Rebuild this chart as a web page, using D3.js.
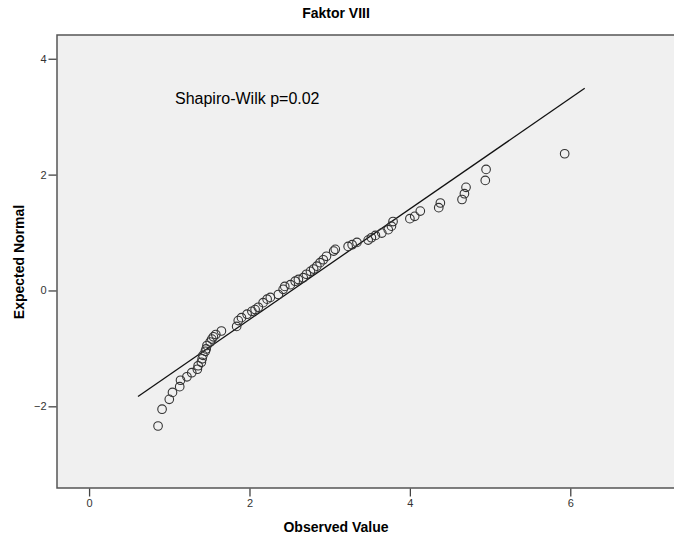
<!DOCTYPE html>
<html>
<head>
<meta charset="utf-8">
<script src="https://cdn.jsdelivr.net/npm/d3@7"></script>
<style>
  body { margin: 0; background: #fff; }
  text { font-family: "Liberation Sans", Arial, sans-serif; }
</style>
</head>
<body>
<div id="canvas"></div>
<script>
"use strict"

let observed = [0.86, 0.91, 1.00, 1.04, 1.13, 1.14, 1.22, 1.28, 1.35, 1.36,
    1.40, 1.41, 1.42, 1.45, 1.46, 1.47, 1.51, 1.53, 1.55, 1.58,
    1.65, 1.84, 1.86, 1.90, 1.97, 2.03, 2.07, 2.11, 2.17, 2.22,
    2.26, 2.36, 2.42, 2.44, 2.51, 2.57, 2.61, 2.67, 2.71, 2.76,
    2.80, 2.84, 2.88, 2.92, 2.96, 3.05, 3.07, 3.23, 3.28, 3.34,
    3.48, 3.52, 3.57, 3.65, 3.73, 3.77, 3.79, 4.00, 4.06, 4.13,
    4.36, 4.38, 4.65, 4.68, 4.70, 4.94, 4.95, 5.93];
let expected = [-2.34, -2.05, -1.88, -1.76, -1.66, -1.55, -1.49, -1.42, -1.36, -1.30,
    -1.24, -1.18, -1.12, -1.05, -1.01, -0.95, -0.89, -0.84, -0.80, -0.76,
    -0.70, -0.62, -0.52, -0.47, -0.41, -0.36, -0.33, -0.29, -0.21, -0.15,
    -0.12, -0.07, 0.02, 0.07, 0.10, 0.16, 0.19, 0.22, 0.28, 0.33,
    0.37, 0.42, 0.48, 0.53, 0.59, 0.68, 0.71, 0.76, 0.79, 0.83,
    0.87, 0.91, 0.95, 0.99, 1.05, 1.11, 1.19, 1.24, 1.28, 1.37,
    1.43, 1.51, 1.57, 1.67, 1.78, 1.90, 2.09, 2.36];

/* Reference line end points (observed, expected) */
let lineX = [0.61, 6.18];
let lineY = [-1.83, 3.49];

let xTicks = [0, 2, 4, 6];
let yTicks = [-2, 0, 2, 4];

/* Drawing configuration */
let svgWidth = 674;
let svgHeight = 540;
let plotLeft = 57, plotTop = 35, plotBottom = 488, plotRight = 676;

let svg = d3.select("#canvas")
    .append("svg")
    .attr("width", svgWidth)
    .attr("height", svgHeight);

let xScale = d3.scaleLinear()
    .domain([-0.4, 7.3])
    .range([plotLeft, plotLeft + 7.7 * 80.2]);

let yScale = d3.scaleLinear()
    .domain([-3.41, 4.41])
    .range([plotBottom, plotTop]);

/* Plot background and frame */
svg.append("rect")
    .attr("x", plotLeft)
    .attr("y", plotTop)
    .attr("width", plotRight - plotLeft)
    .attr("height", plotBottom - plotTop)
    .attr("fill", "#f0f0f0")
    .attr("stroke", "#555")
    .attr("stroke-width", 1.5);

/* Axes */
let xAxis = svg.append("g")
    .attr("transform", "translate(0," + (plotBottom + 0.5) + ")")
    .call(d3.axisBottom(xScale).tickValues(xTicks).tickSize(8).tickPadding(3));
let yAxis = svg.append("g")
    .attr("transform", "translate(" + (plotLeft - 0.5) + ",0)")
    .call(d3.axisLeft(yScale).tickValues(yTicks).tickSize(8).tickPadding(2));

[xAxis, yAxis].forEach(function (ax) {
    ax.select(".domain").remove();
    ax.selectAll("line").attr("stroke", "#444").attr("stroke-width", 1.3);
    ax.selectAll("text")
        .attr("fill", "#333")
        .style("font-size", "11px")
        .style("font-family", "'Liberation Sans', Arial, sans-serif");
});

/* Reference line */
svg.append("line")
    .attr("x1", xScale(lineX[0]))
    .attr("y1", yScale(lineY[0]))
    .attr("x2", xScale(lineX[1]))
    .attr("y2", yScale(lineY[1]))
    .attr("stroke", "#111")
    .attr("stroke-width", 1.3);

/* Points */
svg.selectAll("circle.pt")
    .data(observed)
    .join("circle")
    .attr("class", "pt")
    .attr("cx", function (d) { return xScale(d); })
    .attr("cy", function (d, i) { return yScale(expected[i]); })
    .attr("r", 4.3)
    .attr("fill", "none")
    .attr("stroke", "#333")
    .attr("stroke-width", 1.1);

/* Title and labels */
svg.append("text")
    .attr("x", 336)
    .attr("y", 18)
    .attr("text-anchor", "middle")
    .style("font-size", "14px")
    .style("font-weight", "bold")
    .text("Faktor VIII");

svg.append("text")
    .attr("x", 175)
    .attr("y", 104)
    .style("font-size", "16px")
    .text("Shapiro-Wilk p=0.02");

svg.append("text")
    .attr("x", 336)
    .attr("y", 532)
    .attr("text-anchor", "middle")
    .style("font-size", "14px")
    .style("font-weight", "bold")
    .text("Observed Value");

svg.append("text")
    .attr("transform", "translate(24,262) rotate(-90)")
    .attr("text-anchor", "middle")
    .style("font-size", "14px")
    .style("font-weight", "bold")
    .text("Expected Normal");
</script>
</body>
</html>
